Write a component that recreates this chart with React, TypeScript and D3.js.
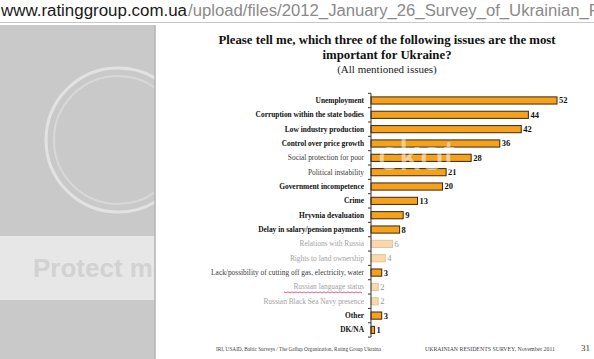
import React from 'react';
import * as d3 from 'd3';

const categories = [
  "Unemployment",
  "Corruption within the state bodies",
  "Low industry production",
  "Control over price growth",
  "Social protection for poor",
  "Political instability",
  "Government incompetence",
  "Crime",
  "Hryvnia devaluation",
  "Delay in salary/pension payments",
  "Relations with Russia",
  "Rights to land ownership",
  "Lack/possibility of cutting off gas, electricity, water",
  "Russian language status",
  "Russian Black Sea Navy presence",
  "Other",
  "DK/NA",
];
const values = [52, 44, 42, 36, 28, 21, 20, 13, 9, 8, 6, 4, 3, 2, 2, 3, 1];
// how each row looks in the scanned slide: b = bold, m = plain dark, f = faded
const rowStyles = ["b", "b", "b", "b", "m", "m", "b", "b", "b", "b", "f", "f", "m", "f", "f", "b", "b"];

const titleLines = [
  "Please tell me, which three of the following issues are the most",
  "important for Ukraine?",
];
const subtitle = "(All mentioned issues)";
const footerLeft = "IRI, USAID,  Baltic Surveys / The Gallup Organization, Rating Group Ukraina";
const footerRight = "UKRAINIAN RESIDENTS SURVEY, November 2011";
const pageNo = "31";

const W = 594;
const H = 359;
const serif = "'Liberation Serif', 'Times New Roman', serif";
const sans = "'Liberation Sans', Arial, sans-serif";

export default function App() {
  const axisX = 371;
  const x = d3.scaleLinear().domain([0, 52]).range([axisX, 557]);
  const y = d3.scaleBand<string>().domain(categories).range([93.3, 337.1]).padding(0);
  const step = y.step();
  const barH = step * 0.5;

  const labelFill = (s: string) => (s === "f" ? "#a3a3a3" : s === "m" ? "#3a3a3a" : "#111");
  const barFill = (s: string) => (s === "f" ? "#fbd8ac" : "#f5a11c");
  const barStroke = (s: string) => (s === "f" ? "#e2c49e" : "#3b2a10");

  const bounds = categories.map((c) => y(c) as number).concat([y.range()[1]]);

  return (
    <svg width={W} height={H} style={{ position: 'absolute', left: 0, top: 0, background: '#fff' }}>
      <defs>
        <clipPath id="panel">
          <rect x={0} y={25} width={155} height={H - 25} />
        </clipPath>
      </defs>

      {/* address bar */}
      <rect x={0} y={0} width={W} height={22} fill="#fff" />
      <text x={1} y={16} fontFamily={sans} fontSize={16} fill="#1a1a1a" textLength={186} lengthAdjust="spacingAndGlyphs">
        www.ratinggroup.com.ua
      </text>
      <text x={188} y={16} fontFamily={sans} fontSize={16} fill="#8a8a8a" textLength={412} lengthAdjust="spacingAndGlyphs">
        /upload/files/2012_January_26_Survey_of_Ukrainian_P
      </text>
      <line x1={0} x2={W} y1={22.5} y2={22.5} stroke="#c8c8c8" />

      {/* grey side panel with watermark */}
      <g clipPath="url(#panel)">
        <rect x={0} y={25} width={155} height={H - 25} fill="#c9c9c9" />
        <rect x={0} y={236} width={155} height={64} fill="#e7e7e7" />
        <circle cx={118} cy={140} r={72} fill="none" stroke="#e2e2e2" strokeWidth={3} />
        <circle cx={118} cy={140} r={64} fill="none" stroke="#d8d8d8" strokeWidth={2} />
        <text x={33} y={277} fontFamily={sans} fontWeight="bold" fontSize={26} fill="#d2d2d2">
          Protect more
        </text>
      </g>
      <line x1={155} x2={155} y1={25} y2={H} stroke="#b3b3b3" strokeWidth={1.5} />

      {/* title */}
      {titleLines.map((t, i) => (
        <text key={t} x={387} y={44 + i * 15} textAnchor="middle" fontFamily={serif} fontWeight="bold" fontSize={12.8} fill="#111">
          {t}
        </text>
      ))}
      <text x={387} y={73} textAnchor="middle" fontFamily={serif} fontSize={11} fill="#222">
        {subtitle}
      </text>

      {/* bars */}
      {categories.map((c, i) => {
        const s = rowStyles[i];
        const cy = (y(c) as number) + step / 2;
        return (
          <g key={c}>
            <rect
              x={x(0)}
              y={cy - barH / 2}
              width={x(values[i]) - x(0)}
              height={barH}
              fill={barFill(s)}
              stroke={barStroke(s)}
              strokeWidth={1}
            />
            <text
              x={364}
              y={cy}
              dy="0.33em"
              textAnchor="end"
              fontFamily={serif}
              fontSize={7.4}
              fontWeight={s === "b" ? "bold" : "normal"}
              fill={labelFill(s)}
            >
              {c}
            </text>
            <text
              x={x(values[i]) + 2}
              y={cy}
              dy="0.35em"
              fontFamily={serif}
              fontSize={8.5}
              fontWeight={s === "f" ? "normal" : "bold"}
              fill={s === "f" ? "#999" : "#111"}
            >
              {values[i]}
            </text>
          </g>
        );
      })}

      {/* spell-check underline under one label */}
      <path
        d={d3.range(284, 364, 2).map((px, k) => `${k === 0 ? 'M' : 'L'}${px},${(y("Russian language status") as number) + step / 2 + 5 + (k % 2)}`).join(' ')}
        fill="none"
        stroke="#e8608a"
        strokeWidth={1}
      />

      {/* axis */}
      <line x1={axisX} x2={axisX} y1={y.range()[0]} y2={y.range()[1]} stroke="#333" strokeWidth={1} />
      {bounds.map((b, i) => (
        <line key={i} x1={axisX - 3} x2={axisX} y1={b} y2={b} stroke="#333" strokeWidth={1} />
      ))}

      {/* photobucket watermark over the chart */}
      <text x={378} y={170} fontFamily={sans} fontSize={42} fill="#fff" opacity={0.5}>
        ckot
      </text>

      {/* footer */}
      <text x={216} y={351} fontFamily={serif} fontSize={6} fill="#444" textLength={165} lengthAdjust="spacingAndGlyphs">
        {footerLeft}
      </text>
      <text x={425} y={351} fontFamily={serif} fontSize={6} fill="#444" textLength={130} lengthAdjust="spacingAndGlyphs">
        {footerRight}
      </text>
      <text x={581} y={351} fontFamily={serif} fontSize={9} fill="#333">
        {pageNo}
      </text>
    </svg>
  );
}
